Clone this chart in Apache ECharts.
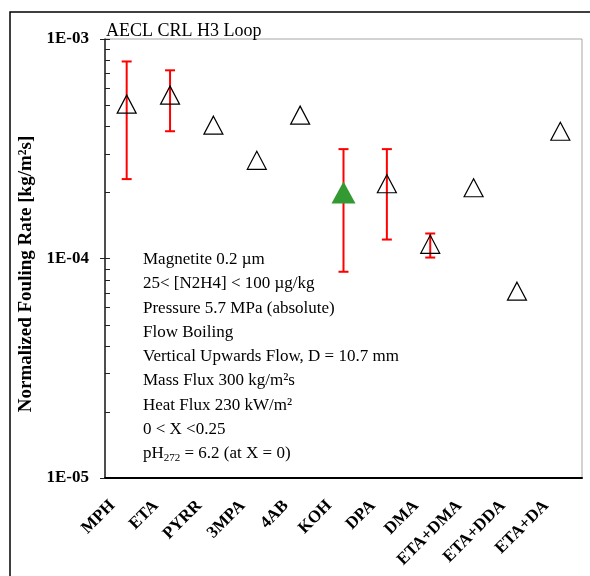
<!DOCTYPE html>
<html>
<head>
<meta charset="utf-8">
<script src="https://cdn.jsdelivr.net/npm/echarts@6/dist/echarts.min.js"></script>
<style>html,body{margin:0;padding:0;background:#fff;}#c{width:590px;height:576px;}</style>
</head>
<body>
<div id="c"></div>
<script>
const categories = ['MPH','ETA','PYRR','3MPA','4AB','KOH','DPA','DMA','ETA+DMA','ETA+DDA','ETA+DA'];
const rates = [5.05e-4, 5.55e-4, 4.05e-4, 2.8e-4, 4.5e-4, 2.0e-4, 2.19e-4, 1.16e-4, 2.1e-4, 7.1e-5, 3.8e-4];
const errHigh = [7.9e-4, 7.2e-4, null, null, null, 3.15e-4, 3.15e-4, 1.3e-4, null, null, null];
const errLow  = [2.3e-4, 3.8e-4, null, null, null, 8.7e-5, 1.22e-4, 1.01e-4, null, null, null];
const highlightIndex = 5;
const innerTickValues = [2e-5,3e-5,4e-5,5e-5,6e-5,7e-5,8e-5,9e-5,1e-4,2e-4,3e-4,4e-4,5e-4,6e-4,7e-4,8e-4,9e-4,1e-3];
const yTickLabels = {'-5':'1E-05','-4':'1E-04','-3':'1E-03'};
const yAxisTitle = 'Normalized Fouling Rate [kg/m²s]';
const chartTitle = 'AECL CRL H3 Loop';
const noteLines = [
  'Magnetite 0.2 µm',
  '25< [N2H4] < 100 µg/kg',
  'Pressure 5.7 MPa (absolute)',
  'Flow Boiling',
  'Vertical Upwards Flow, D = 10.7 mm',
  'Mass Flux 300 kg/m²s',
  'Heat Flux 230 kW/m²',
  '0 < X <0.25',
  '{n|pH}{s|272}{n| = 6.2 (at X = 0)}'
];

const serif = '"Liberation Serif","Times New Roman",serif';
const chart = echarts.init(document.getElementById('c'));

const openData = [], filledData = [];
rates.forEach((v,i)=>{ if(i===highlightIndex){ filledData.push([categories[i], v]); } else { openData.push([categories[i], v]); } });
const errData = [];
rates.forEach((v,i)=>{ if(errHigh[i]!=null) errData.push([i, errLow[i], errHigh[i]]); });

const noteGraphics = noteLines.map((t,i)=>({
  type:'text', left:143, top:251 + i*24.3,
  style:{ text:t, font:'17px '+serif, fill:'#000',
    rich:{ n:{fontSize:17, fontFamily:serif, fill:'#000'}, s:{fontSize:11, fontFamily:serif, fill:'#000', padding:[9,0,0,0]} } }
}));

chart.setOption({
  animation:false,
  backgroundColor:'#fff',
  title:{ text:chartTitle, left:101, top:17,
    textStyle:{ fontFamily:serif, fontSize:18, fontWeight:'normal', color:'#000' } },
  grid:{ left:105, right:8, top:39, bottom:98, show:true, borderColor:'#a6a6a6', borderWidth:1, backgroundColor:'#fff' },
  xAxis:{ type:'category', data:categories, boundaryGap:true,
    axisLine:{ lineStyle:{ color:'#000', width:2 } },
    axisTick:{ show:false },
    axisLabel:{ rotate:45, interval:0, margin:11, padding:[0,20,0,0], fontFamily:serif, fontSize:17, fontWeight:'bold', color:'#000' },
    splitLine:{ show:false } },
  yAxis:{ type:'log', logBase:10, min:1e-5, max:1e-3,
    axisLine:{ show:true, lineStyle:{ color:'#222', width:1.5 } },
    axisTick:{ show:true, length:5, lineStyle:{ color:'#222', width:1 } },
    axisLabel:{ margin:16, fontFamily:serif, fontSize:17, fontWeight:'bold', color:'#000',
      formatter:function(v){ const e = Math.round(Math.log10(v)); return yTickLabels[String(e)] || ''; } },
    splitLine:{ show:false }, minorTick:{show:false} },
  graphic:[
    { type:'polyline', shape:{ points:[[10,576],[10,12],[590,12]] }, style:{ stroke:'#000', lineWidth:1.5, fill:null }, silent:true },
    { type:'text', x:26, y:274, rotation:Math.PI/2, silent:true,
      style:{ text:yAxisTitle, font:'bold 19px '+serif, fill:'#000', align:'center', verticalAlign:'middle' } }
  ].concat(noteGraphics),
  series:[
    { type:'custom', name:'innerTicks', clip:false, silent:true, z:5,
      data: innerTickValues.map(v=>[0, v]),
      encode:{ x:0, y:1 },
      renderItem:function(params, api){
        const y = Math.round(api.coord([0, api.value(1)])[1]) + 0.5;
        const x0 = params.coordSys.x;
        return { type:'line', shape:{ x1:x0, y1:y, x2:x0+5, y2:y }, style:{ stroke:'#222', lineWidth:1 } };
      } },
    { type:'custom', name:'errors', clip:false, silent:true, z:3,
      data: errData, encode:{ x:0, y:[1,2] },
      renderItem:function(params, api){
        const lo = api.coord([api.value(0), api.value(1)]);
        const hi = api.coord([api.value(0), api.value(2)]);
        const cap = 5;
        const st = { stroke:'#ff0000', lineWidth:2 };
        return { type:'group', children:[
          { type:'line', shape:{ x1:lo[0], y1:lo[1], x2:hi[0], y2:hi[1] }, style:st },
          { type:'line', shape:{ x1:lo[0]-cap, y1:lo[1], x2:lo[0]+cap, y2:lo[1] }, style:st },
          { type:'line', shape:{ x1:hi[0]-cap, y1:hi[1], x2:hi[0]+cap, y2:hi[1] }, style:st }
        ]};
      } },
    { type:'scatter', name:'open', data:openData, symbol:'triangle', symbolSize:[19,18], z:4,
      itemStyle:{ color:'rgba(255,255,255,0)', borderColor:'#000', borderWidth:1.2, opacity:1 } },
    { type:'scatter', name:'filled', data:filledData, symbol:'triangle', symbolSize:[24,22], z:4,
      itemStyle:{ color:'#339933', borderColor:'#339933', borderWidth:0, opacity:1 } }
  ]
});
</script>
</body>
</html>
